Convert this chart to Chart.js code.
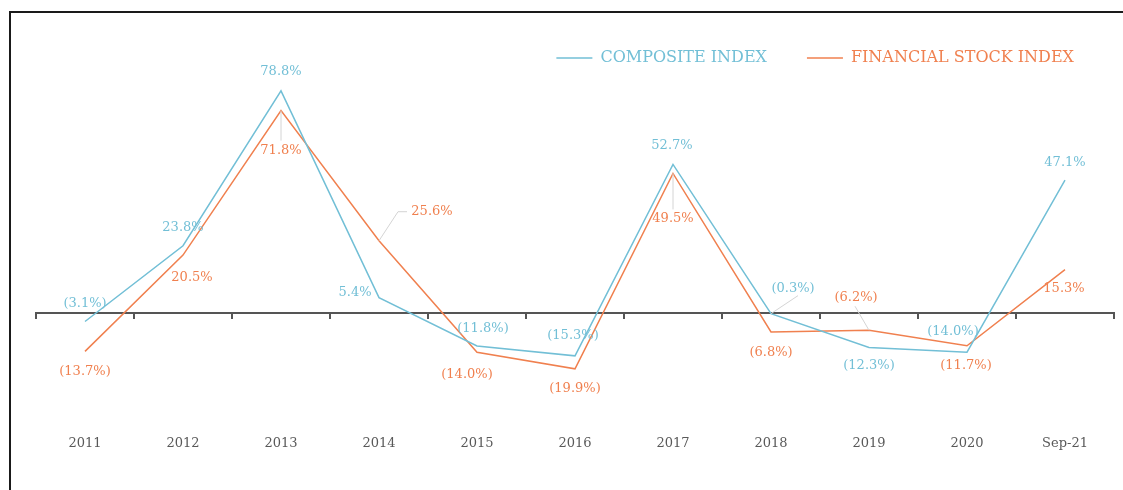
<!DOCTYPE html>
<html>
<head>
<meta charset="utf-8">
<script src="https://cdn.jsdelivr.net/npm/chart.js@4/dist/chart.umd.min.js"></script>
<style>
  html, body { margin: 0; padding: 0; background: #fff; }
  #frame {
    position: absolute; left: 9px; top: 11px; width: 1200px; height: 600px;
    border: 2px solid #1a1a1a;
  }
  #wrap { position: absolute; left: 0; top: 0; width: 1123px; height: 490px; }
</style>
</head>
<body>
<div id="frame"></div>
<div id="wrap"><canvas id="chart"></canvas></div>
<script>
const years = ["2011", "2012", "2013", "2014", "2015", "2016", "2017", "2018", "2019", "2020", "Sep-21"];
const compositeIndex = [-3.1, 23.8, 78.8, 5.4, -11.8, -15.3, 52.7, -0.3, -12.3, -14.0, 47.1];
const financialIndex = [-13.7, 20.5, 71.8, 25.6, -14.0, -19.9, 49.5, -6.8, -6.2, -11.7, 15.3];

// where each value label sits, relative to its point (px)
const compositeLabelOffsets = [[0, -18], [0, -18], [0, -19], [-24, -5], [6, -17], [-2, -20], [-1, -19], [22, -25], [0, 18], [-14, -21], [0, -18]];
const financialLabelOffsets = [[0, 20], [9, 23], [0, 40], [53, -29], [-10, 22], [0, 20], [0, 45], [0, 21], [-13, -33], [-1, 20], [-1, 19]];

// faint leader lines for some labels (offsets from the point)
const compositeLeaders = { 7: [[0, 0], [27, -18]] };
const financialLeaders = { 2: [[0, 0], [0, 30]], 3: [[0, 0], [19, -29], [28, -29]], 6: [[0, 0], [0, 36]], 8: [[0, 0], [-14, -24]] };

const blue = "#72BFD6";
const orange = "#F0804F";
const serif = "'DejaVu Serif', 'Liberation Serif', serif";

function fmt(v) {
  const s = Math.abs(v).toFixed(1) + "%";
  return v < 0 ? "(" + s + ")" : s;
}

const valueLabels = {
  id: "valueLabels",
  afterDatasetsDraw(chart) {
    const ctx = chart.ctx;
    const offsets = [compositeLabelOffsets, financialLabelOffsets];
    const leaders = [compositeLeaders, financialLeaders];
    ctx.save();
    chart.data.datasets.forEach((ds, di) => {
      const meta = chart.getDatasetMeta(di);
      meta.data.forEach((pt, i) => {
        const lead = leaders[di][i];
        if (lead) {
          ctx.strokeStyle = "#d4d4d4";
          ctx.lineWidth = 1;
          ctx.beginPath();
          lead.forEach((p, k) => {
            if (k === 0) ctx.moveTo(pt.x + p[0], pt.y + p[1]);
            else ctx.lineTo(pt.x + p[0], pt.y + p[1]);
          });
          ctx.stroke();
        }
        const off = offsets[di][i];
        ctx.font = "13px " + serif;
        ctx.fillStyle = ds.borderColor;
        ctx.textAlign = "center";
        ctx.textBaseline = "middle";
        ctx.fillText(fmt(ds.data[i]), pt.x + off[0], pt.y + off[1]);
      });
    });
    ctx.restore();
  }
};

new Chart(document.getElementById("chart").getContext("2d"), {
  type: "line",
  data: {
    labels: years,
    datasets: [
      {
        label: "COMPOSITE INDEX",
        data: compositeIndex,
        borderColor: blue,
        backgroundColor: blue,
        borderWidth: 1.5,
        pointRadius: 0,
        tension: 0
      },
      {
        label: "FINANCIAL STOCK INDEX",
        data: financialIndex,
        borderColor: orange,
        backgroundColor: orange,
        borderWidth: 1.5,
        pointRadius: 0,
        tension: 0
      }
    ]
  },
  options: {
    responsive: true,
    maintainAspectRatio: false,
    animation: false,
    layout: { padding: { top: 10, right: 9, bottom: 29, left: 36 } },
    plugins: {
      tooltip: { enabled: false },
      legend: {
        position: "top",
        align: "end",
        labels: {
          usePointStyle: true,
          pointStyle: "line",
          pointStyleWidth: 36,
          padding: 40,
          font: { family: serif, size: 16 },
          generateLabels(chart) {
            const items = Chart.defaults.plugins.legend.labels.generateLabels(chart);
            items.forEach((it) => { it.fontColor = chart.data.datasets[it.datasetIndex].borderColor; });
            return items;
          }
        }
      }
    },
    scales: {
      x: {
        offset: true,
        grid: { display: false, drawTicks: false },
        border: { display: false },
        ticks: { color: "#595959", font: { family: serif, size: 13 }, padding: 10, maxRotation: 0 }
      },
      x2: {
        type: "category",
        position: { y: 0 },
        offset: true,
        grid: { offset: true, drawOnChartArea: false, drawTicks: true, tickLength: 5, color: "#555", lineWidth: 2 },
        border: { display: true, color: "#555", width: 2 },
        ticks: { display: false }
      },
      y: {
        display: false,
        min: -40,
        max: 84.1
      }
    }
  },
  plugins: [valueLabels]
});
</script>
</body>
</html>
